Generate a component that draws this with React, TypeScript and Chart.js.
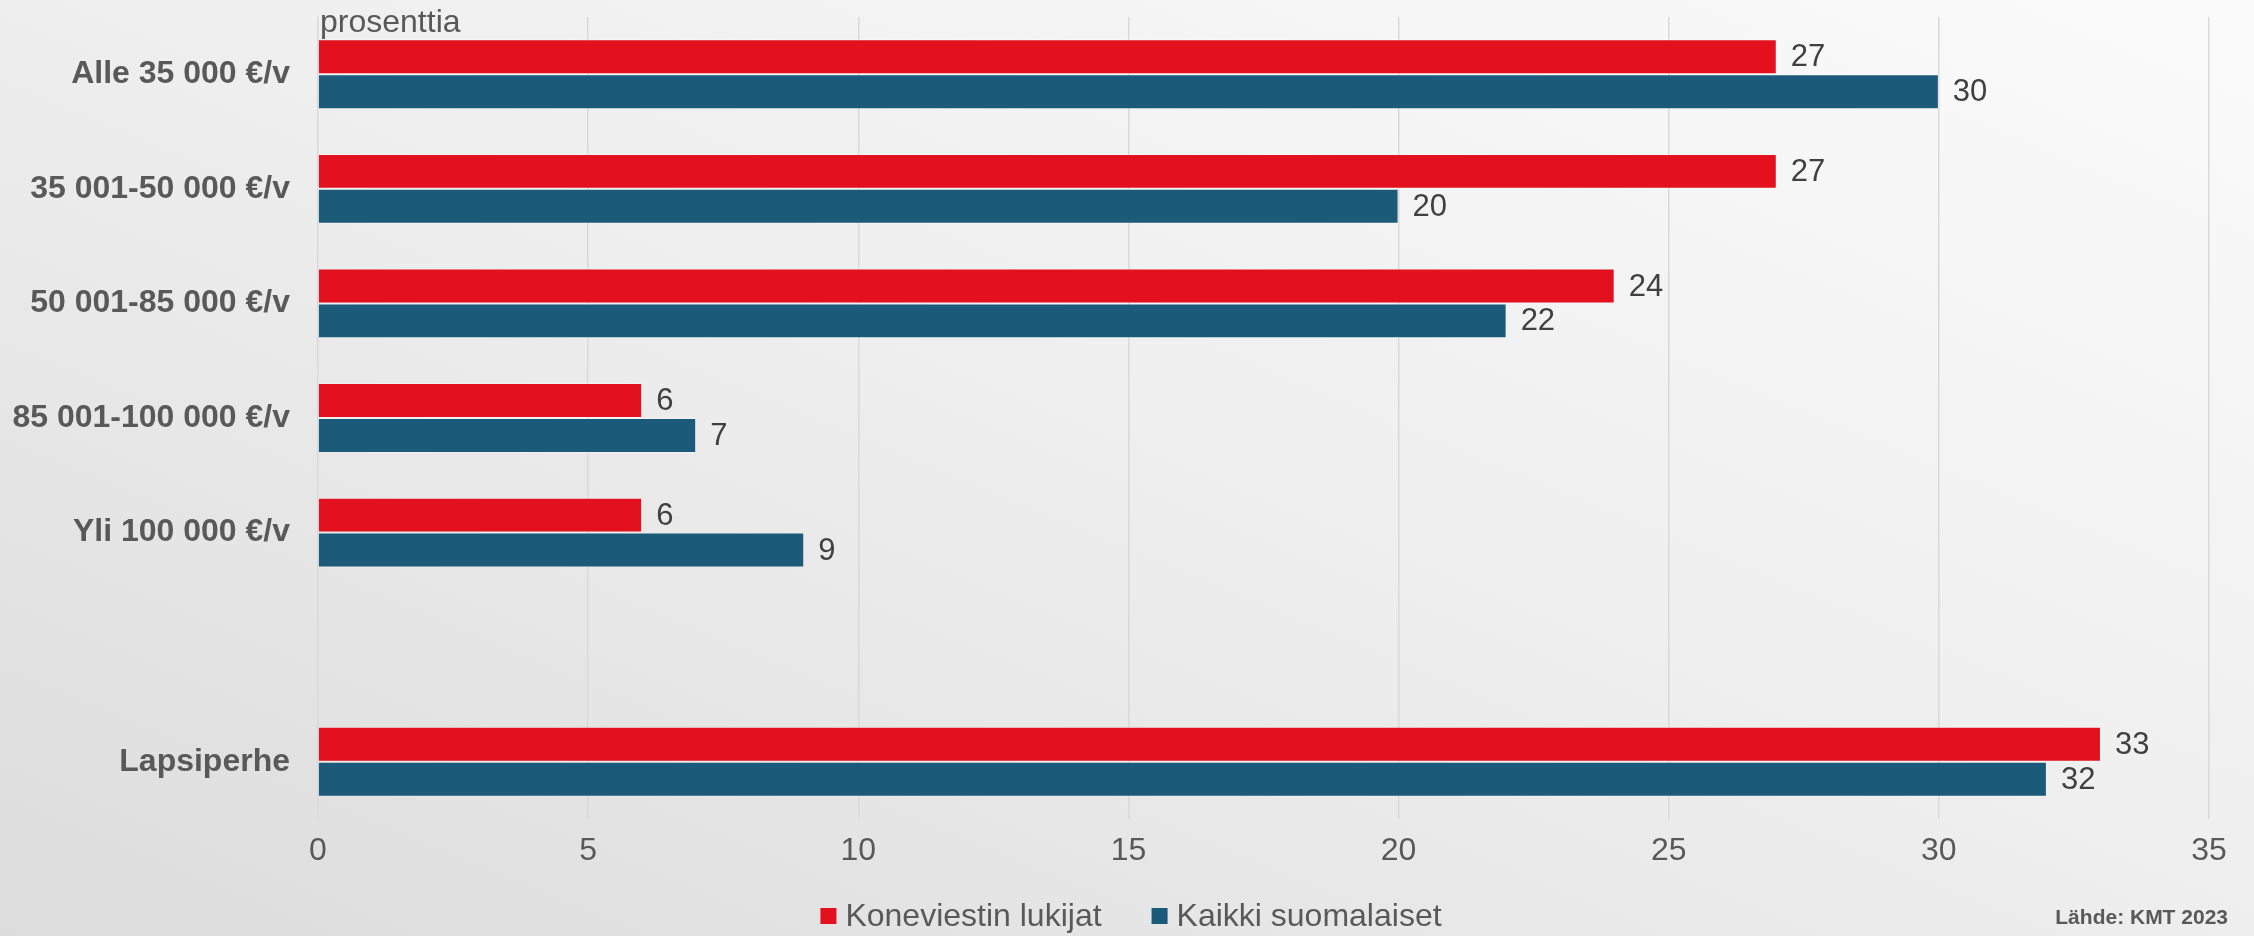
import React, { useEffect, useRef } from "react";
import { Chart, registerables } from "chart.js";

Chart.register(...registerables);

const categories = [
  "Alle 35 000 €/v",
  "35 001-50 000 €/v",
  "50 001-85 000 €/v",
  "85 001-100 000 €/v",
  "Yli 100 000 €/v",
  "",
  "Lapsiperhe",
];
const koneviestinValues = [27, 27, 24, 6, 6, null, 33];
const kaikkiValues = [30, 20, 22, 7, 9, null, 32];
const seriesNames = ["Koneviestin lukijat", "Kaikki suomalaiset"];
const seriesColors = ["#E3101E", "#1B5A78"];
const axisUnitLabel = "prosenttia";
const sourceLabel = "Lähde: KMT 2023";

const FONT = "'Liberation Sans', Arial, sans-serif";
const W = 2254;
const H = 936;

export default function App() {
  const ref = useRef<HTMLCanvasElement | null>(null);

  useEffect(() => {
    document.body.style.margin = "0";
    const canvas = ref.current;
    if (!canvas) return;

    const overlay = {
      id: "overlay",
      afterDatasetsDraw(chart: any) {
        const ctx = chart.ctx;
        ctx.save();
        // data labels
        ctx.font = `31px ${FONT}`;
        ctx.fillStyle = "#404040";
        ctx.textAlign = "left";
        ctx.textBaseline = "middle";
        chart.data.datasets.forEach((ds: any, di: number) => {
          const meta = chart.getDatasetMeta(di);
          meta.data.forEach((bar: any, i: number) => {
            const v = ds.data[i];
            if (v === null || v === undefined) return;
            ctx.fillText(String(v), bar.x + 14, bar.y + 1);
          });
        });
        // unit label
        const area = chart.chartArea;
        ctx.font = `32px ${FONT}`;
        ctx.fillStyle = "#595959";
        ctx.textBaseline = "alphabetic";
        ctx.fillText(axisUnitLabel, area.left + 2, area.top + 15);
        // legend
        ctx.font = `32px ${FONT}`;
        const box = 16;
        const gap = 9;
        const itemGap = 50;
        const widths = seriesNames.map((n) => box + gap + ctx.measureText(n).width);
        const total = widths.reduce((a, b) => a + b, 0) + itemGap * (seriesNames.length - 1);
        let x = 1131 - total / 2;
        const ly = 916;
        seriesNames.forEach((n, i) => {
          ctx.fillStyle = seriesColors[i];
          ctx.fillRect(x, ly - box / 2, box, box);
          ctx.fillStyle = "#595959";
          ctx.textBaseline = "middle";
          ctx.fillText(n, x + box + gap, ly + 1);
          x += widths[i] + itemGap;
        });
        // source
        ctx.font = `bold 21px ${FONT}`;
        ctx.textAlign = "right";
        ctx.fillStyle = "#595959";
        ctx.fillText(sourceLabel, 2228, 918);
        ctx.restore();
      },
    };

    const chart = new Chart(canvas, {
      type: "bar",
      data: {
        labels: categories,
        datasets: [
          {
            label: seriesNames[0],
            data: koneviestinValues,
            backgroundColor: seriesColors[0],
            borderColor: "rgba(255,255,255,0.35)",
            borderWidth: 1,
          },
          {
            label: seriesNames[1],
            data: kaikkiValues,
            backgroundColor: seriesColors[1],
            borderColor: "rgba(255,255,255,0.35)",
            borderWidth: 1,
          },
        ],
      },
      options: {
        indexAxis: "y",
        responsive: false,
        animation: false,
        events: [],
        layout: { padding: { top: 17, right: 45, bottom: 57, left: 0 } },
        datasets: {
          bar: { barPercentage: 1, categoryPercentage: 0.61 },
        },
        scales: {
          x: {
            min: 0,
            max: 35,
            ticks: {
              stepSize: 5,
              padding: 13,
              color: "#595959",
              font: { family: FONT, size: 32 },
            },
            grid: { color: "#d9d9d9", lineWidth: 1.5, drawTicks: false },
            border: { display: false },
            afterFit: (s: any) => {
              s.height = 60;
              s.paddingLeft = 0;
              s.paddingRight = 0;
            },
          },
          y: {
            ticks: {
              padding: 28,
              color: "#595959",
              font: { family: FONT, size: 32, weight: "bold" },
            },
            grid: { display: false, drawTicks: false },
            border: { display: false },
            afterFit: (s: any) => {
              s.width = 318;
              s.paddingTop = 0;
              s.paddingBottom = 0;
            },
          },
        },
        plugins: {
          legend: { display: false },
          tooltip: { enabled: false },
        },
      },
      plugins: [overlay],
    });

    return () => chart.destroy();
  }, []);

  return (
    <div
      style={{
        position: "absolute",
        left: 0,
        top: 0,
        width: W,
        height: H,
        overflow: "hidden",
        background: "linear-gradient(to bottom left, #fbfbfb 0%, #eeeeee 50%, #dcdcdc 100%)",
      }}
    >
      <canvas ref={ref} width={W} height={H} style={{ display: "block" }} />
    </div>
  );
}
